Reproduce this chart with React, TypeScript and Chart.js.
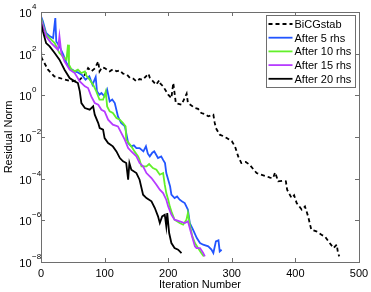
import React, { useEffect, useRef } from "react";
import { Chart, registerables } from "chart.js";

Chart.register(...registerables);

// Residual norms, stored as log10 exponents
const bicgIter = [0, 1, 4, 11, 21, 35, 48, 61, 69, 74, 79, 85, 90, 92, 96, 100, 108, 113, 119, 124, 129, 135, 140, 145, 150, 155, 160, 169, 171, 174, 181, 186, 188, 192, 200, 205, 208, 212, 221, 229, 231, 237, 242, 247, 252, 258, 263, 271, 273, 275, 281, 286, 292, 300, 305, 310, 315, 322, 328, 334, 339, 345, 355, 360, 365, 368, 373, 380, 385, 387, 394, 398, 402, 410, 415, 420, 425, 433, 441, 447, 452, 460, 465, 467, 469];
const bicgLog = [2.19, 1.79, 1.63, 1.23, 0.91, 0.78, 0.67, 0.75, 0.99, 1.31, 1.15, 1.3, 1.63, 1.15, 1.35, 1.31, 1.15, 1.25, 1.15, 1.2, 1.04, 1.0, 0.83, 0.8, 0.67, 0.78, 0.75, 1.04, 0.85, 0.75, 0.51, 0.72, 0.55, 0.43, 0.03, -0.13, 0.59, -0.37, -0.45, 0.08, -0.37, -0.5, -0.61, -0.65, -0.85, -0.9, -1.01, -0.93, -1.3, -1.57, -1.89, -1.95, -2.05, -2.2, -2.45, -2.93, -3.25, -3.2, -3.33, -3.55, -3.73, -3.8, -3.89, -3.95, -3.97, -3.7, -4.13, -4.1, -4.13, -4.53, -4.93, -4.8, -5.17, -5.49, -5.33, -5.81, -6.45, -6.53, -6.69, -6.8, -7.01, -7.33, -7.17, -7.57, -7.73];

const rhs5Iter = [0, 3, 8, 14, 19, 22.5, 24, 29, 35, 40, 45, 53, 58, 64, 70, 76, 81, 86, 88, 92, 95, 100, 104, 108, 112, 116, 121, 126, 132, 137, 142, 146, 150, 155, 161, 165, 168, 171, 175, 178, 184, 189, 192, 195, 197, 203, 205, 210, 214, 218, 222, 226, 231, 234, 239, 245, 250, 255, 263, 268, 271, 275, 279, 281, 284];
const rhs5Log = [3.79, 3.55, 2.99, 2.83, 2.75, 3.71, 2.59, 2.35, 1.95, 1.55, 1.31, 1.15, 1.1, 0.99, 0.75, 0.91, 0.51, 0.88, 0.19, 0.03, 0.11, -0.05, 0.27, -0.29, -0.2, -0.37, -1.01, -1.33, -1.49, -2.29, -2.45, -2.4, -2.53, -2.53, -2.69, -2.45, -2.8, -2.93, -2.75, -2.69, -3.01, -2.93, -3.1, -3.25, -3.73, -4.37, -4.77, -4.93, -4.85, -5.01, -5.1, -5.17, -5.49, -6.13, -6.45, -6.85, -7.09, -7.17, -7.25, -7.4, -7.57, -7.01, -6.96, -7.49, -7.41];

const rhs10Iter = [0, 3, 8, 16, 21.5, 29, 37, 40, 42.5, 44, 48, 53, 58, 63.5, 69, 72, 76.6, 82, 87, 92, 97.6, 101.8, 104, 108, 113, 118.6, 124, 129, 133, 134, 142, 147, 152.7, 155, 158, 165.8, 170, 176, 181.5, 186.8, 192, 194.6, 197, 200, 202.5, 205, 210, 218, 223.5, 228.7, 231, 234, 238, 242, 247, 252, 256];
const rhs10Log = [3.71, 3.39, 2.91, 2.67, 2.51, 2.03, 1.79, 1.71, 2.43, 1.47, 1.23, 1.15, 1.23, 1.07, 1.15, 0.91, 0.75, 0.51, 0.19, -0.21, -0.21, 0.19, -0.53, -0.77, -0.85, -1.09, -1.17, -1.33, -1.49, -2.13, -2.45, -2.69, -2.93, -3.09, -3.41, -3.41, -3.3, -3.49, -3.57, -3.81, -3.73, -4.29, -4.69, -5.01, -5.33, -5.57, -5.97, -6.13, -6.21, -5.97, -5.65, -6.21, -6.77, -7.09, -7.33, -7.57, -7.73];

const rhs15Iter = [0, 3, 8, 16, 26.8, 29, 32, 37, 45, 53, 61, 69, 74, 79, 84.5, 90, 95, 100, 105.5, 113, 121, 126.4, 131.7, 137, 142, 150, 155, 160.5, 165.8, 173.7, 181.5, 186.8, 192, 197, 200, 205, 210, 218, 226, 231, 236, 242, 244.5, 250, 255, 257.6];
const rhs15Log = [3.63, 3.31, 2.83, 2.51, 2.19, 2.83, 2.03, 1.63, 1.23, 1.07, 0.67, 0.43, 0.35, -0.05, -0.37, -0.45, -0.69, -0.77, -1.17, -1.41, -1.49, -1.81, -2.13, -2.53, -2.69, -2.93, -3.25, -3.41, -3.73, -3.97, -4.29, -4.53, -4.69, -5.01, -5.33, -5.73, -5.97, -6.05, -6.13, -6.05, -6.61, -7.25, -7.33, -7.33, -7.57, -7.73];

const rhs20Iter = [0, 3, 8, 13.6, 21.5, 29, 37, 45, 53, 58, 61, 63.5, 69, 76.6, 82, 84.5, 90, 92.3, 97.6, 100, 105.5, 113, 118.6, 124, 129, 134, 137, 139, 142, 150, 155, 160.5, 165.8, 173.7, 179, 184, 186.8, 190.5, 194.6, 197, 198.5, 201.5, 205, 210, 215.6, 220.9];
const rhs20Log = [3.47, 3.07, 2.51, 2.35, 2.03, 1.71, 1.23, 0.83, 0.67, 0.59, 0.19, -0.37, -0.61, -0.69, -0.53, -0.93, -1.33, -1.57, -1.65, -2.05, -2.29, -2.45, -2.69, -3.01, -3.17, -3.25, -4.05, -3.25, -3.57, -3.73, -4.05, -4.77, -4.93, -5.09, -5.41, -5.81, -6.13, -5.81, -5.73, -6.29, -5.65, -6.61, -7.09, -7.33, -7.41, -7.57];

const seriesLabels = ["BiCGstab", "After 5 rhs", "After 10 rhs", "After 15 rhs", "After 20 rhs"];
const xTickValues = [0, 100, 200, 300, 400, 500];
const yTickExponents = [4, 2, 0, -2, -4, -6, -8];
const xTitle = "Iteration Number";
const yTitle = "Residual Norm";

const FONT = '"Liberation Sans", Arial, Helvetica, sans-serif';
const colors = ["#000000", "#2255ff", "#62f02a", "#b63cff", "#000000"];

function toPoints(xs: number[], logs: number[]) {
  return xs.map((x, i) => ({ x, y: Math.pow(10, logs[i]) }));
}

const decorPlugin = {
  id: "decor",
  afterDraw(chart: any) {
    const ctx = chart.ctx as CanvasRenderingContext2D;
    const a = chart.chartArea;
    const xs = chart.scales.x;
    const ys = chart.scales.y;
    ctx.save();
    // frame
    ctx.strokeStyle = "#6e6e6e";
    ctx.lineWidth = 1;
    ctx.strokeRect(Math.round(a.left) + 0.5, Math.round(a.top) + 0.5, Math.round(a.right - a.left), Math.round(a.bottom - a.top));
    // ticks
    const tl = 4;
    ctx.beginPath();
    xTickValues.forEach((v) => {
      const px = Math.round(xs.getPixelForValue(v)) + 0.5;
      ctx.moveTo(px, a.bottom);
      ctx.lineTo(px, a.bottom - tl);
      ctx.moveTo(px, a.top);
      ctx.lineTo(px, a.top + tl);
    });
    yTickExponents.forEach((e) => {
      const py = Math.round(ys.getPixelForValue(Math.pow(10, e))) + 0.5;
      ctx.moveTo(a.left, py);
      ctx.lineTo(a.left + tl, py);
      ctx.moveTo(a.right, py);
      ctx.lineTo(a.right - tl, py);
    });
    ctx.stroke();
    // x tick labels
    ctx.fillStyle = "#000";
    ctx.font = "11px " + FONT;
    ctx.textAlign = "center";
    ctx.textBaseline = "alphabetic";
    xTickValues.forEach((v) => {
      ctx.fillText(String(v), xs.getPixelForValue(v), a.bottom + 15);
    });
    // y tick labels: 10 with superscript exponent
    yTickExponents.forEach((e) => {
      const py = ys.getPixelForValue(Math.pow(10, e));
      ctx.font = "11px " + FONT;
      ctx.textAlign = "right";
      ctx.fillText("10", a.left - 9.5, py + 5);
      ctx.font = "8px " + FONT;
      ctx.textAlign = "left";
      ctx.fillText(e < 0 ? "\u2212" + Math.abs(e) : String(e), a.left - 9, py - 3);
    });
    // axis titles
    ctx.font = "11px " + FONT;
    ctx.textAlign = "center";
    ctx.fillText(xTitle, (a.left + a.right) / 2, a.bottom + 26);
    ctx.save();
    ctx.translate(12, (a.top + a.bottom) / 2);
    ctx.rotate(-Math.PI / 2);
    ctx.fillText(yTitle, 0, 0);
    ctx.restore();
    // legend
    const lx = 266.5, ly = 15.5, lw = 89, lh = 72;
    ctx.fillStyle = "#fff";
    ctx.fillRect(lx, ly, lw, lh);
    ctx.strokeStyle = "#6e6e6e";
    ctx.lineWidth = 1;
    ctx.strokeRect(lx, ly, lw, lh);
    chart.data.datasets.forEach((ds: any, i: number) => {
      const cy = 24 + i * 13.7;
      ctx.beginPath();
      ctx.strokeStyle = ds.borderColor;
      ctx.lineWidth = 1.8;
      ctx.setLineDash(ds.borderDash || []);
      ctx.moveTo(268.5, cy);
      ctx.lineTo(292.5, cy);
      ctx.stroke();
      ctx.setLineDash([]);
      ctx.fillStyle = "#000";
      ctx.font = "11px " + FONT;
      ctx.textAlign = "left";
      ctx.fillText(ds.label, 294.5, cy + 4);
    });
    ctx.restore();
  },
};

export default function App() {
  const ref = useRef<HTMLCanvasElement | null>(null);
  useEffect(() => {
    if (!ref.current) return;
    const mk = (i: number, xs: number[], ls: number[], order: number, dash?: number[]) => ({
      label: seriesLabels[i],
      data: toPoints(xs, ls),
      borderColor: colors[i],
      backgroundColor: colors[i],
      borderWidth: 1.8,
      borderDash: dash,
      pointRadius: 0,
      tension: 0,
      fill: false,
      order,
    });
    const chart = new Chart(ref.current, {
      type: "line",
      data: {
        datasets: [
          mk(0, bicgIter, bicgLog, 4, [4, 3]),
          mk(1, rhs5Iter, rhs5Log, 3),
          mk(2, rhs10Iter, rhs10Log, 2),
          mk(3, rhs15Iter, rhs15Log, 1),
          mk(4, rhs20Iter, rhs20Log, 0),
        ] as any,
      },
      options: {
        responsive: false,
        animation: false,
        layout: { padding: { left: 41, top: 12, right: 12, bottom: 30 } },
        plugins: { legend: { display: false }, tooltip: { enabled: false } },
        scales: {
          x: { type: "linear", min: 0, max: 500, display: false },
          y: { type: "logarithmic", min: 1e-8, max: 1e4, display: false },
        },
      },
      plugins: [decorPlugin],
    });
    return () => chart.destroy();
  }, []);
  return (
    <div style={{ position: "fixed", left: 0, top: 0, width: 371, height: 292, background: "#fff" }}>
      <canvas ref={ref} width={371} height={292} />
    </div>
  );
}
